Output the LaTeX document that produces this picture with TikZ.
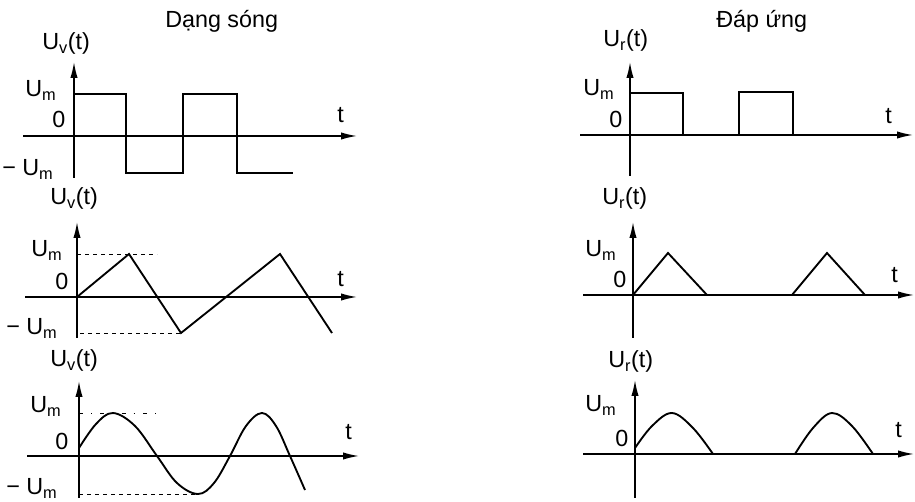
\documentclass[tikz,border=0pt]{standalone}
\usepackage{fontspec}
\setmainfont{Liberation Sans}
\usetikzlibrary{arrows.meta}
\begin{document}
\begin{tikzpicture}[x=0.75pt,y=-0.75pt,
  axis/.style={line width=1.1pt,-{Latex[length=12pt,width=5.5pt]}},
  wave/.style={line width=1.4pt,line join=miter},
  guide/.style={line width=0.7pt,dash pattern=on 3pt off 3pt},
  guidedot/.style={line width=0.7pt,dash pattern=on 3pt off 6pt on 1pt off 6pt},
  lbl/.style={inner sep=0pt,anchor=base west,font=\fontsize{17.5}{20}\selectfont},
  ]
\useasboundingbox (0,0) rectangle (915,502);
% titles
\node[lbl] (title1) at (165,28) {Dạng sóng};
\node[lbl] (title2) at (716,28) {Đáp ứng};

%% ---------- Left 1: square wave
\coordinate (l1yb) at (74,178); \coordinate (l1yt) at (74,62);
\coordinate (l1xa) at (23,136); \coordinate (l1xb) at (357,136);
\draw[axis] (l1yb) -- (l1yt);
\draw[axis] (l1xa) -- (l1xb);
\draw[wave] (74,136) -- (74,94) -- (126,94) -- (126,173) -- (183,173) -- (183,94) -- (237,94) -- (237,173) -- (293,173);
\node[lbl] (l1u) at (42,50) {U\textsubscript{v}(t)};
\node[lbl] (l1m) at (25,97) {U\textsubscript{m}};
\node[lbl] (l10) at (52,128) {0};
\node[lbl] (l1t) at (337,123) {t};
\node[lbl] (l1n) at (2,176) {− U\textsubscript{m}};

%% ---------- Left 2: triangle wave
\coordinate (l2yb) at (77,338); \coordinate (l2yt) at (77,222);
\coordinate (l2xa) at (25,297); \coordinate (l2xb) at (357,297);
\draw[axis] (l2yb) -- (l2yt);
\draw[axis] (l2xa) -- (l2xb);
\draw[guide] (77,254) -- (157,254);
\draw[guide] (80,333) -- (181,333);
\draw[wave] (77,297) -- (129,254) -- (181,333) -- (280,254) -- (332,333);
\node[lbl] (l2u) at (50,205) {U\textsubscript{v}(t)};
\node[lbl] (l2m) at (31,257) {U\textsubscript{m}};
\node[lbl] (l20) at (55,290) {0};
\node[lbl] (l2t) at (337,287) {t};
\node[lbl] (l2n) at (6,335) {− U\textsubscript{m}};

%% ---------- Left 3: sine wave
\coordinate (l3yb) at (79,498); \coordinate (l3yt) at (79,381);
\coordinate (l3xa) at (27,456); \coordinate (l3xb) at (359,456);
\draw[axis] (l3yb) -- (l3yt);
\draw[axis] (l3xa) -- (l3xb);
\draw[guidedot] (79,413) -- (160,413);
\draw[guide] (79,494) -- (198,494);
\draw[wave] plot[smooth,tension=0.6] coordinates {(79,448) (96,424) (113,413) (135,426) (157,456) (177,483) (198,494) (214,483) (230,456) (246,426) (262,413) (276,426) (290,456) (305,490)};
\node[lbl] (l3u) at (50,367) {U\textsubscript{v}(t)};
\node[lbl] (l3m) at (30,413) {U\textsubscript{m}};
\node[lbl] (l30) at (55,450) {0};
\node[lbl] (l3t) at (345,440) {t};
\node[lbl] (l3n) at (6,495) {− U\textsubscript{m}};

%% ---------- Right 1: rectified square
\coordinate (r1yb) at (630,176); \coordinate (r1yt) at (630,62);
\coordinate (r1xa) at (580,135); \coordinate (r1xb) at (913,135);
\draw[axis] (r1yb) -- (r1yt);
\draw[axis] (r1xa) -- (r1xb);
\draw[wave] (630,135) -- (630,93) -- (683,93) -- (683,135);
\draw[wave] (739,135) -- (739,92) -- (793,92) -- (793,135);
\node[lbl] (r1u) at (603,47) {U\textsubscript{r}(t)};
\node[lbl] (r1m) at (583,96) {U\textsubscript{m}};
\node[lbl] (r10) at (609,128) {0};
\node[lbl] (r1t) at (885,124) {t};

%% ---------- Right 2: rectified triangle
\coordinate (r2yb) at (633,338); \coordinate (r2yt) at (633,222);
\coordinate (r2xa) at (583,295); \coordinate (r2xb) at (914,295);
\draw[axis] (r2yb) -- (r2yt);
\draw[axis] (r2xa) -- (r2xb);
\draw[wave] (633,295) -- (668,253) -- (707,295);
\draw[wave] (792,295) -- (827,253) -- (865,295);
\node[lbl] (r2u) at (602,205) {U\textsubscript{r}(t)};
\node[lbl] (r2m) at (585,257) {U\textsubscript{m}};
\node[lbl] (r20) at (613,288) {0};
\node[lbl] (r2t) at (891,283) {t};

%% ---------- Right 3: rectified sine
\coordinate (r3yb) at (635,498); \coordinate (r3yt) at (635,380);
\coordinate (r3xa) at (583,454); \coordinate (r3xb) at (914,454);
\draw[axis] (r3yb) -- (r3yt);
\draw[axis] (r3xa) -- (r3xb);
\draw[wave] plot[smooth,tension=0.6] coordinates {(635,448) (652,426) (672,413) (693,428) (713,454)};
\draw[wave] plot[smooth,tension=0.6] coordinates {(795,454) (813,428) (832,413) (852,426) (873,454)};
\node[lbl] (r3u) at (608,368) {U\textsubscript{r}(t)};
\node[lbl] (r3m) at (585,412) {U\textsubscript{m}};
\node[lbl] (r30) at (615,447) {0};
\node[lbl] (r3t) at (895,438) {t};
\end{tikzpicture}
\end{document}
